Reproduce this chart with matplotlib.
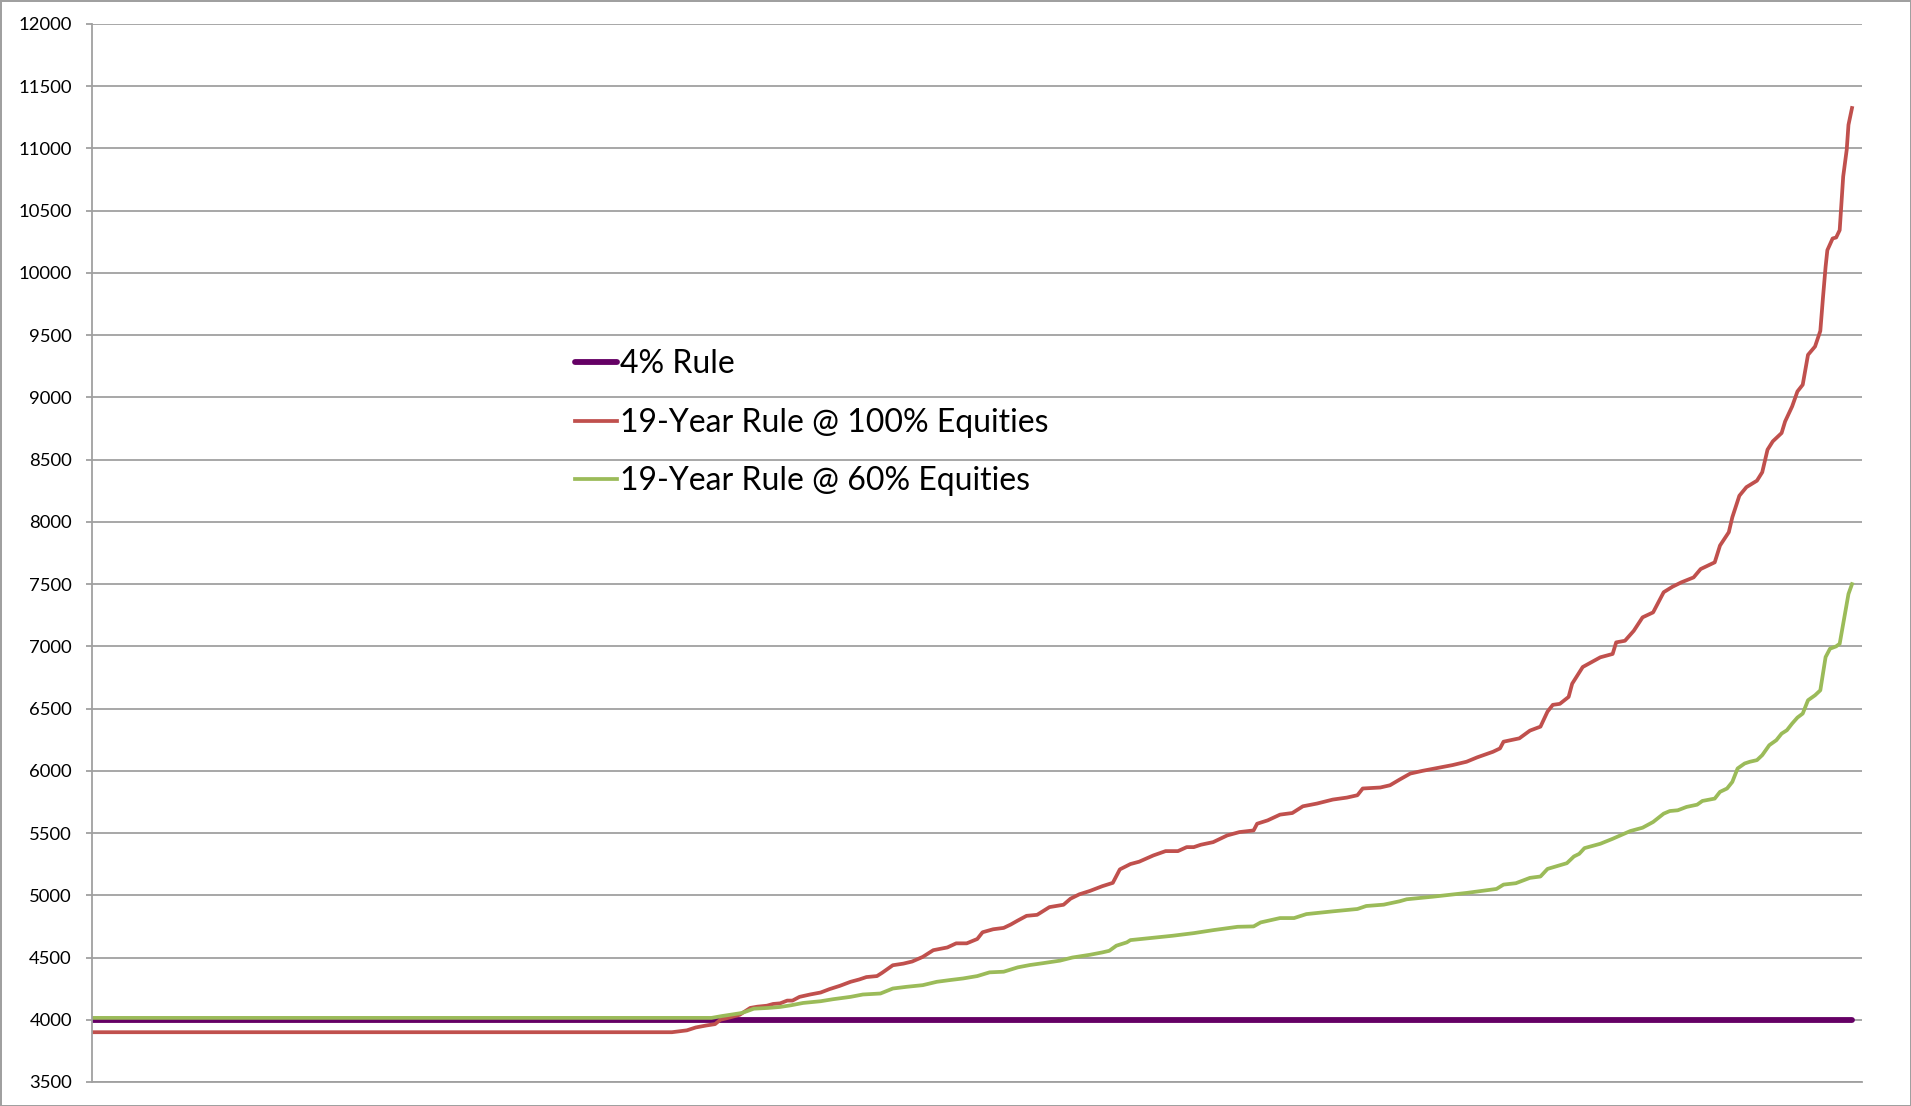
import matplotlib
matplotlib.use("Agg")
import matplotlib.pyplot as plt

plt.rcParams['font.family'] = ['Lato', 'DejaVu Sans']

# x = rank of the period, in percent (the original axis carries no labels)
rule4_pct = [0, 100]
rule4_val = [4000, 4000]

eq100_pct = [0, 32.95, 33.8, 34.3, 34.9, 35.4, 35.7, 36.25, 36.8, 37.4, 37.8, 38.35, 38.7,
             39.1, 39.5, 39.8, 40.2, 40.8, 41.4, 41.9, 42.5, 43.1, 43.6, 44.0, 44.6, 44.9,
             45.5, 46.1, 46.6, 47.2, 47.8, 48.6, 49.1, 49.7, 50.3, 50.6, 51.2, 51.8, 52.2,
             52.6, 53.1, 53.7, 54.4, 55.2, 55.6, 56.1, 56.7, 57.4, 58.0, 58.4, 59.0, 59.5,
             60.3, 61.0, 61.7, 62.2, 62.6, 63.0, 63.7, 64.5, 65.2, 66.0, 66.2, 66.8, 67.5,
             68.2, 68.8, 69.6, 70.5, 71.3, 71.9, 72.2, 73.2, 73.75, 74.3, 74.9, 75.6, 76.6,
             77.3, 78.1, 78.7, 79.6, 80.0, 80.2, 81.1, 81.7, 82.3, 82.7, 83.0, 83.4, 83.9,
             84.1, 84.7, 85.7, 86.4, 86.6, 87.1, 87.6, 88.1, 88.7, 89.3, 89.8, 90.3, 91.0,
             91.4, 92.2, 92.5, 93.0, 93.2, 93.6, 94.0, 94.6, 94.9, 95.2, 95.5, 96.0, 96.2,
             96.6, 96.9, 97.2, 97.5, 97.9, 98.2, 98.35, 98.5, 98.6, 98.9, 99.1, 99.3, 99.5,
             99.7, 99.8, 100]
eq100_val = [3900, 3900, 3915, 3938, 3954, 3965, 4000, 4019, 4040, 4095, 4105, 4113, 4127,
             4132, 4154, 4154, 4184, 4203, 4219, 4246, 4273, 4305, 4324, 4343, 4351, 4378,
             4438, 4451, 4468, 4505, 4559, 4581, 4614, 4614, 4649, 4703, 4727, 4738, 4765,
             4797, 4835, 4843, 4905, 4924, 4973, 5008, 5035, 5073, 5100, 5208, 5251, 5270,
             5320, 5355, 5355, 5387, 5387, 5406, 5427, 5481, 5508, 5521, 5575, 5602, 5648,
             5661, 5715, 5737, 5769, 5785, 5804, 5858, 5866, 5884, 5930, 5978, 6000, 6027,
             6046, 6073, 6108, 6153, 6180, 6234, 6261, 6323, 6355, 6476, 6530, 6538, 6594,
             6700, 6834, 6912, 6939, 7032, 7045, 7125, 7233, 7273, 7435, 7479, 7514, 7554,
             7621, 7675, 7810, 7917, 8037, 8210, 8279, 8331, 8399, 8580, 8647, 8714, 8807,
             8928, 9048, 9102, 9342, 9409, 9534, 9800, 10050, 10183, 10277, 10285, 10344, 10775,
             10990, 11190, 11325]

eq60_pct = [0, 35.2, 35.8, 36.4, 36.9, 37.2, 37.6, 38.4, 39.1, 39.7, 40.4, 41.4, 42.1,
            43.1, 43.8, 44.8, 45.5, 46.3, 47.2, 48.0, 48.75, 49.5, 50.3, 51.0, 51.8, 52.6,
            53.3, 54.0, 55.0, 55.7, 56.7, 57.4, 57.8, 58.2, 58.8, 59.0, 60.1, 61.4, 62.6,
            63.7, 65.1, 66.0, 66.4, 67.5, 68.3, 69.0, 70.5, 71.9, 72.4, 73.4, 74.3, 74.7,
            76.2, 78.1, 79.8, 80.2, 80.9, 81.7, 82.3, 82.7, 83.8, 84.2, 84.5, 84.8, 85.7,
            86.4, 87.4, 88.1, 88.7, 89.3, 89.65, 90.1, 90.6, 91.2, 91.5, 92.2, 92.5, 92.9,
            93.2, 93.5, 93.9, 94.2, 94.6, 94.9, 95.3, 95.7, 96.0, 96.3, 96.6, 96.9, 97.2,
            97.5, 97.9, 98.2, 98.5, 98.75, 99.1, 99.3, 99.6, 99.8, 100]
eq60_val = [4015, 4015, 4030, 4043, 4054, 4068, 4089, 4095, 4103, 4116, 4135, 4149, 4165,
            4184, 4203, 4211, 4251, 4265, 4278, 4305, 4319, 4332, 4351, 4381, 4386, 4421,
            4440, 4454, 4475, 4500, 4522, 4541, 4554, 4595, 4622, 4640, 4656, 4675, 4696,
            4720, 4747, 4750, 4782, 4817, 4817, 4849, 4871, 4890, 4914, 4925, 4952, 4968,
            4989, 5019, 5051, 5086, 5097, 5140, 5151, 5212, 5258, 5312, 5333, 5379, 5414,
            5454, 5516, 5543, 5589, 5656, 5677, 5683, 5710, 5728, 5758, 5777, 5831, 5858,
            5911, 6019, 6059, 6073, 6086, 6126, 6206, 6246, 6299, 6326, 6380, 6428, 6460,
            6567, 6607, 6647, 6914, 6981, 7000, 7021, 7261, 7421, 7500]

labels = ['4% Rule', '19-Year Rule @ 100% Equities', '19-Year Rule @ 60% Equities']
yticks = list(range(3500, 12001, 500))

grid_col = '#a0a0a0'

fig = plt.figure(figsize=(19.11, 11.06), dpi=100)
fig.patch.set_edgecolor(grid_col)
fig.patch.set_linewidth(2)
ax = fig.add_axes([92 / 1911, 1 - 1082 / 1106, 1770 / 1911, 1058 / 1106])

ax.plot(rule4_pct, rule4_val, color='#650065', lw=4.2, label=labels[0], solid_capstyle='round')
ax.plot(eq100_pct, eq100_val, color='#c0504d', lw=2.7, label=labels[1], solid_joinstyle='round')
ax.plot(eq60_pct, eq60_val, color='#9bbb59', lw=2.7, label=labels[2], solid_joinstyle='round')

ax.set_xlim(0, 100 * 1770 / 1760)
ax.set_ylim(3500, 12000)
ax.set_yticks(yticks)
ax.set_xticks([])
ax.yaxis.grid(True, color=grid_col, lw=1.3)
ax.set_axisbelow(True)
for s in ['top', 'right']:
    ax.spines[s].set_visible(False)
ax.spines['left'].set_color(grid_col)
ax.spines['left'].set_linewidth(1.3)
ax.spines['bottom'].set_color(grid_col)
ax.spines['bottom'].set_linewidth(1.3)
ax.tick_params(axis='y', length=4.5, width=1.3, color=grid_col, pad=10, labelsize=13.3)

ax.legend(loc='upper left', bbox_to_anchor=(575 / 1911, 1 - 349 / 1106),
          bbox_transform=fig.transFigure, frameon=False, fontsize=23,
          handlelength=1.3, handletextpad=0.12, borderpad=0, borderaxespad=0,
          labelspacing=0.9)

fig.savefig('out.png', dpi=100, edgecolor=fig.get_edgecolor())
